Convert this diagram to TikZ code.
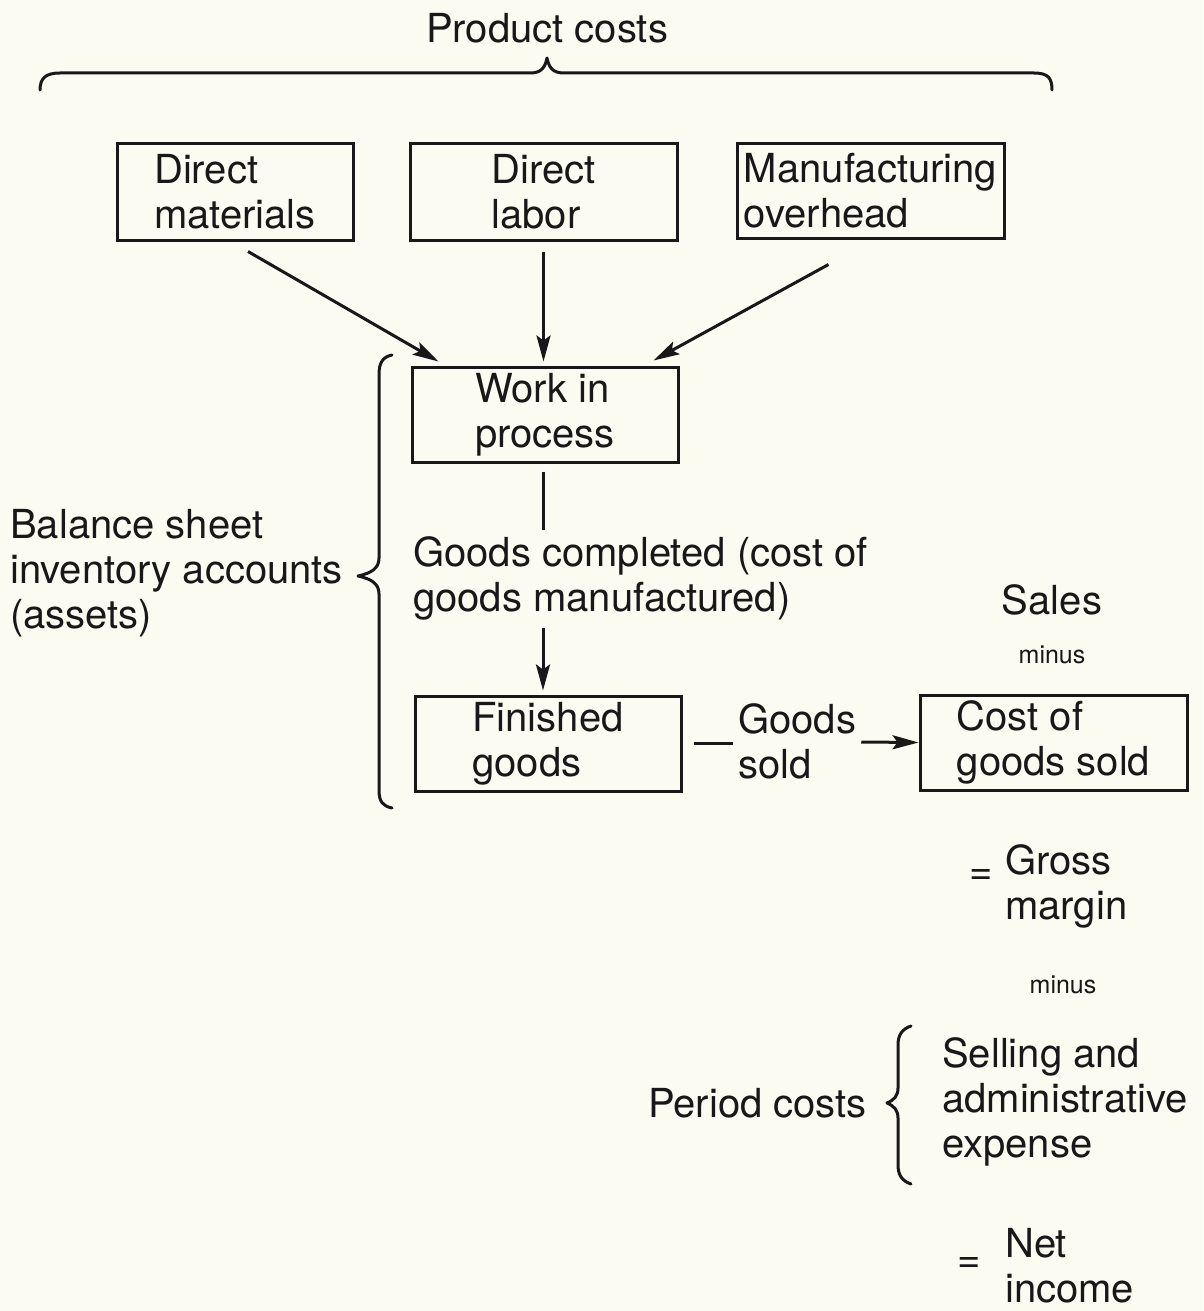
\documentclass[tikz,border=0pt]{standalone}
\usepackage{fontspec}
\setmainfont{TeX Gyre Heros}
\usetikzlibrary{arrows.meta,calc}
\definecolor{paper}{RGB}{252,251,241}
\definecolor{ink}{RGB}{24,24,24}
\begin{document}
\begin{tikzpicture}[x=1pt,y=-1pt,
  every node/.style={text=ink, inner sep=0pt, font=\fontsize{40}{45}\selectfont},
  box/.style={draw=ink, line width=3pt, align=left},
  lbl/.style={align=left},
  small/.style={font=\fontsize{25}{30}\selectfont},
  conn/.style={draw=ink, line width=3pt},
  arr/.style={conn, -{Stealth[length=26pt,width=14pt,inset=5pt]}},
  bracestyle/.style={draw=ink, line width=3pt, line cap=round, line join=round}]

% page background
\fill[paper] (0,0) rectangle (1203,1311);
\useasboundingbox (0,0) rectangle (1203,1311);

% product costs heading and its brace
\node (pcost) at (547,28) {Product costs};
\draw[bracestyle] (40,90) .. controls (40,78) and (46,73) .. (60,73) -- (530,73)
  .. controls (541,73) and (545,68) .. (547,58)
  .. controls (549,68) and (553,73) .. (564,73) -- (1034,73)
  .. controls (1048,73) and (1052,78) .. (1052,90);

% cost element boxes
\node[box, minimum width=236pt, minimum height=97pt] (dm) at (235,191.5) {Direct\\materials};
\node[box, minimum width=267pt, minimum height=97pt] (dl) at (543.5,191.5) {Direct\\labor};
\node[box, minimum width=267pt, minimum height=95pt] (mo) at (870.5,190.5) {Manufacturing\\overhead};

% inventory accounts
\node[box, minimum width=266pt, minimum height=95pt] (wip) at (545,414.5) {Work in\\process};
\node[box, minimum width=266pt, minimum height=95pt] (fg) at (548,743.5) {Finished\\goods};
\node[box, minimum width=267pt, minimum height=95pt] (cogs) at (1053.5,742.5) {Cost of\\goods sold};

% flows into work in process
\draw[arr] ($(dm.south)+(13,10)$) -- ($(wip.north west)+(28,-4)$);
\draw[arr] ($(dl.south)+(0,10)$) -- ($(dl.south |- wip.north)+(0,-4)$);
\draw[arr] ($(mo.south)+(-42,25)$) -- ($(wip.north east)+(-26,-5)$);

% goods completed
\node[lbl, anchor=west] (gc) at (413,578) {Goods completed (cost of\\goods manufactured)};
\draw[conn] ($(wip.south)+(-2,8)$) -- ($(wip.south |- gc.north)+(-2,-6)$);
\draw[arr] ($(wip.south |- gc.south)+(-2,8)$) -- ($(wip.south |- fg.north)+(-2,-4)$);

% goods sold
\node[lbl, anchor=west] (gs) at (738,741) {Goods\\sold};
\draw[conn] ($(fg.east)+(11,0)$) -- ($(gs.west |- fg.east)+(-5,0)$);
\draw[arr] ($(gs.east)+(5,1)$) -- (cogs.west);

% income statement column
\node (sales) at (1052,600) {Sales};
\node[small] (minus1) at (1052,655) {minus};
\node[lbl, anchor=west] (gm) at (1005,886) {Gross\\margin};
\node (eq1) at (981,877) {=};
\node[small] (minus2) at (1063,985) {minus};
\node[lbl, anchor=west] (sa) at (942,1102) {Selling and\\administrative\\expense};
\node[anchor=east] (pc) at (867,1103) {Period costs};
\node[lbl, anchor=west] (ni) at (1005,1266) {Net\\income};
\node (eq2) at (969,1265) {=};

% period costs brace
\draw[bracestyle] (911,1026) .. controls (902,1029) and (898,1035) .. (898,1045) -- (898,1088)
  .. controls (898,1096) and (894,1100) .. (887,1103)
  .. controls (894,1106) and (898,1110) .. (898,1118) -- (898,1165)
  .. controls (898,1175) and (902,1181) .. (911,1184);

% balance sheet label and brace
\node[lbl, anchor=west] (bs) at (10,573) {Balance sheet\\inventory accounts\\(assets)};
\draw[bracestyle] (392,355) .. controls (383,357) and (379,362) .. (379,375) -- (379,558)
  .. controls (379,568) and (372,573) .. (358,576)
  .. controls (372,579) and (379,584) .. (379,594) -- (379,790)
  .. controls (379,802) and (383,806) .. (392,808);

\end{tikzpicture}
\end{document}
